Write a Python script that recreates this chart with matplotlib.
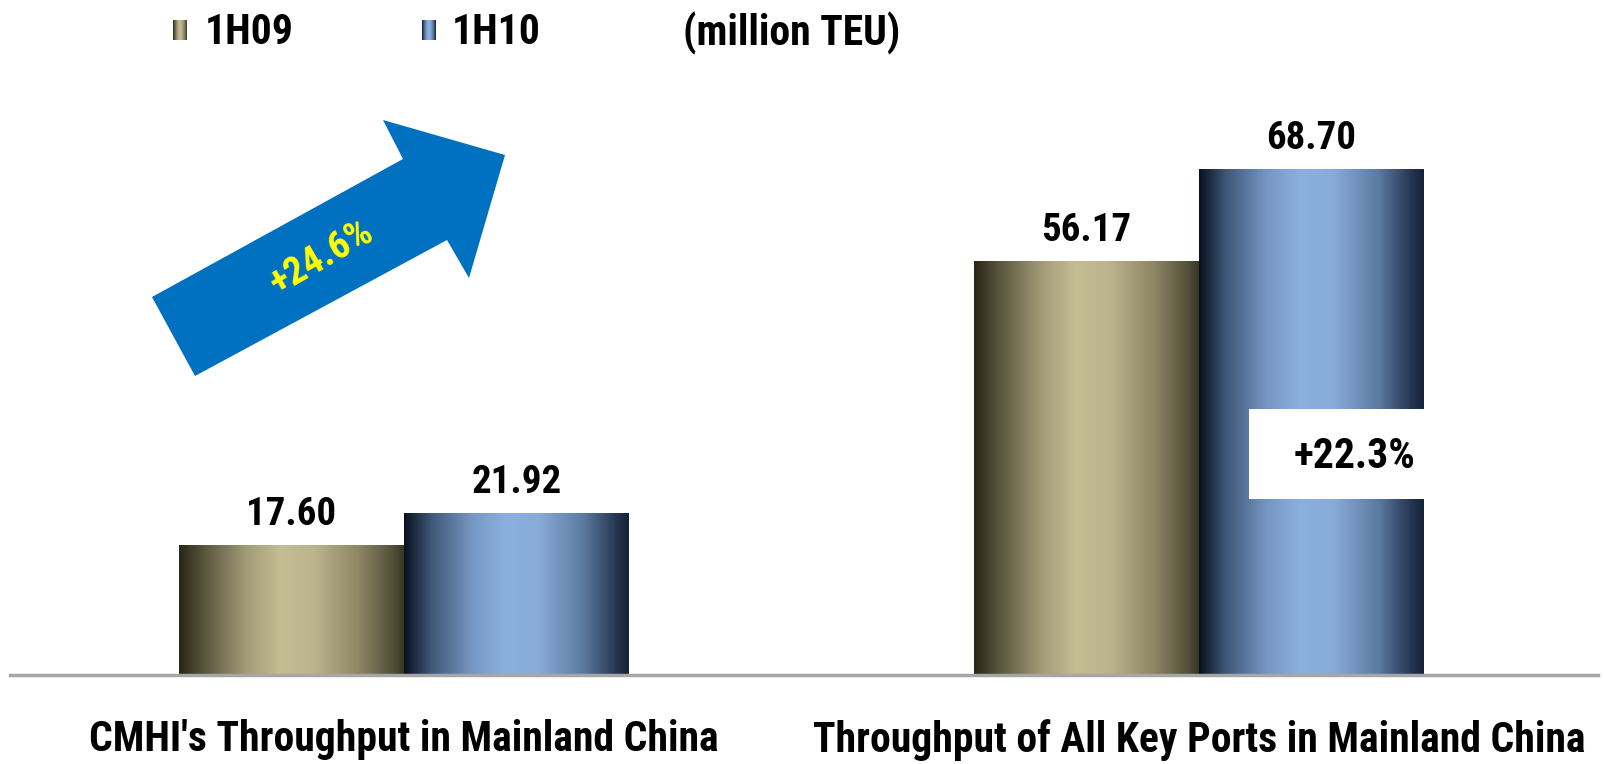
import numpy as np
import matplotlib.pyplot as plt
from matplotlib.colors import LinearSegmentedColormap
from matplotlib.patches import Polygon, Rectangle

categories = ["CMHI's Throughput in Mainland China", "Throughput of All Key Ports in Mainland China"]
series = ['1H09', '1H10']
values_1h09 = [17.60, 56.17]
values_1h10 = [21.92, 68.70]
growth_labels = ['+24.6%', '+22.3%']
unit_label = '(million TEU)'

W, H = 1604, 764
FS = 27
plt.rcParams['font.family'] = ['Roboto Condensed', 'DejaVu Sans']
plt.rcParams['font.weight'] = 'bold'

olive = LinearSegmentedColormap.from_list('olive', [
    (0.0, '#2a2716'), (0.12, '#5e5840'), (0.3, '#a39c78'), (0.45, '#c4bc93'),
    (0.6, '#bcb48d'), (0.8, '#8e8664'), (0.95, '#55503a'), (1.0, '#3a3624')])
steel = LinearSegmentedColormap.from_list('steel', [
    (0.0, '#08111f'), (0.12, '#3f5878'), (0.3, '#7596c2'), (0.45, '#8cb0de'),
    (0.6, '#88abd8'), (0.8, '#5a7aa0'), (0.95, '#24344f'), (1.0, '#15223a')])
grad = np.linspace(0, 1, 256).reshape(1, -1)


def fx(px):
    return px / W


def fy(py):
    return 1 - py / H


fig = plt.figure(figsize=(W / 100, H / 100), dpi=100)
ax = fig.add_axes([fx(10), fy(675), 1588 / W, 675 / H])

x = np.arange(len(categories))
width = 0.283
bars_a = ax.bar(x - width / 2, values_1h09, width, color='none', edgecolor='none')
bars_b = ax.bar(x + width / 2, values_1h10, width, color='none', edgecolor='none')

# cylinder-like shading: a horizontal gradient stretched over each bar
for bars, cmap in ((bars_a, olive), (bars_b, steel)):
    for rect in bars:
        x0, w, h = rect.get_x(), rect.get_width(), rect.get_height()
        ax.imshow(grad, cmap=cmap, extent=[x0, x0 + w, 0, h], aspect='auto',
                  interpolation='bicubic', zorder=2)
        ax.annotate(f'{h:.2f}', (x0 + w / 2, h), xytext=(0, 15),
                    textcoords='offset points', ha='center', va='baseline',
                    fontsize=FS + 1, fontweight='bold')

ax.set_xlim(-0.4956, 1.502)
ax.set_ylim(0, 91.8)
for s in ('top', 'right', 'left'):
    ax.spines[s].set_visible(False)
ax.spines['bottom'].set_color('#a6a6a6')
ax.spines['bottom'].set_linewidth(2.5)
ax.spines['bottom'].set_zorder(3)
ax.set_yticks([])
ax.set_xticks(x)
ax.set_xticklabels(categories, fontsize=30, fontweight='bold')
ax.tick_params(axis='x', length=0, pad=32)

# growth arrow over the first group
arrow_px = [(152, 297), (403, 159), (383, 120), (505, 155), (469, 278), (447, 240), (195, 376)]
fig.add_artist(Polygon([(fx(a), fy(b)) for a, b in arrow_px], closed=True,
                       transform=fig.transFigure, facecolor='#0070c0', edgecolor='none'))
fig.text(fx(322), fy(258), growth_labels[0], color='#ffff00', fontsize=28,
         fontweight='bold', rotation=30, ha='center', va='center', rotation_mode='anchor')

# growth box on the second group
fig.add_artist(Rectangle((fx(1249), fy(499)), fx(1427) - fx(1249), 90 / H,
                         transform=fig.transFigure, facecolor='white', edgecolor='none'))
fig.text(fx(1355), fy(456), growth_labels[1], fontsize=30, fontweight='bold',
         ha='center', va='center')

# legend
for (sx, tx), cmap, name in zip([(173, 205), (422, 452)], (olive, steel), series):
    lax = fig.add_axes([fx(sx), fy(40), 14 / W, 20 / H])
    lax.imshow(grad, cmap=cmap, aspect='auto')
    lax.axis('off')
    fig.text(fx(tx), fy(33), name, fontsize=30, fontweight='bold', va='center')
fig.text(fx(683), fy(33), unit_label, fontsize=30, fontweight='bold', va='center')

fig.savefig('out.png', dpi=100, facecolor='white')
